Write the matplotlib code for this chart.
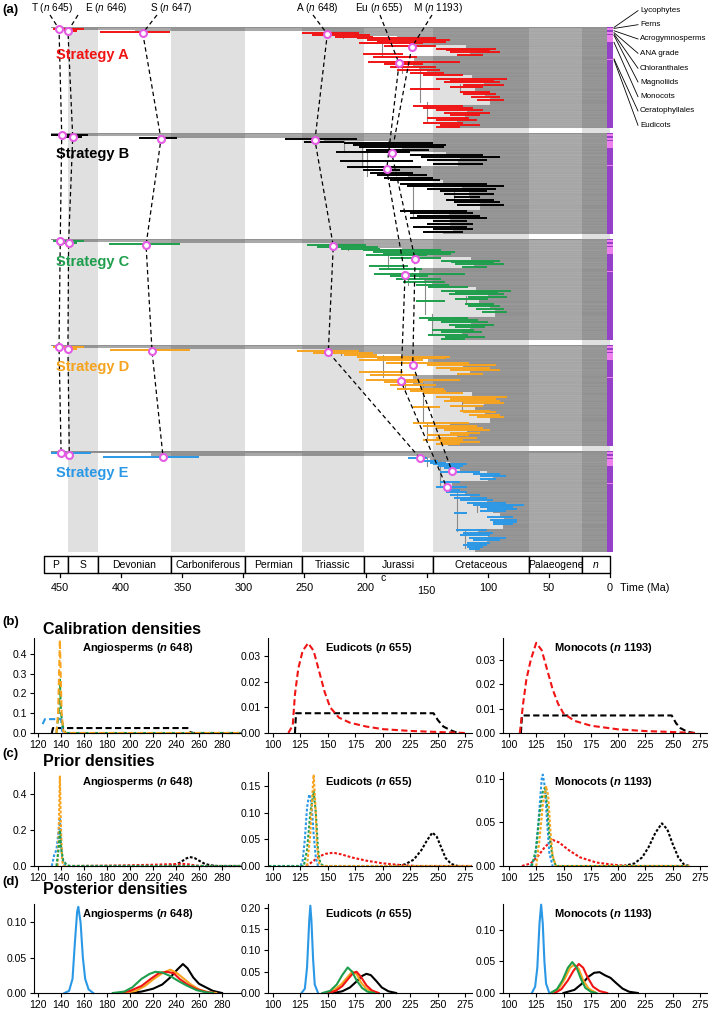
import numpy as np
import matplotlib
matplotlib.use('Agg')
import matplotlib.pyplot as plt
from matplotlib import font_manager

# ---------------- panel (a) data ----------------
period_names = ['P', 'S', 'Devonian', 'Carboniferous', 'Permian', 'Triassic',
                'Jurassi', 'Cretaceous', 'Palaeogene', 'n']
period_old = [463.0, 443.8, 419.2, 358.9, 298.9, 251.9, 201.3, 145.0, 66.0, 23.0]
period_young = [443.8, 419.2, 358.9, 298.9, 251.9, 201.3, 145.0, 66.0, 23.0, 0.0]
period_shaded = [False, True, False, True, False, True, False, True, False, True]
time_ticks = [450, 400, 350, 300, 250, 200, 150, 100, 50, 0]

strategies = ['A', 'B', 'C', 'D', 'E']
strategy_colors = ['#f01414', '#000000', '#1e9e4c', '#f6a31e', '#2b98e6']

node_labels = [('T', '645'), ('E', '646'), ('S', '647'), ('A', '648'),
               ('Eu', '655'), ('M', '1193')]
# ages (Ma) of the calibrated nodes, one value per strategy A..E
age_T = [450.8, 448.6, 449.8, 450.8, 449.1]
age_E = [443.5, 439.6, 443.0, 443.5, 442.4]
age_S = [382.3, 367.4, 379.6, 374.7, 365.7]
age_A = [231.3, 241.4, 226.4, 230.5, 155.5]
age_Eu = [172.6, 182.7, 167.7, 171.0, 133.6]
age_M = [162.2, 178.6, 159.5, 161.4, 129.3]
node_rows = [2, 4, 6, 7, 36, 20]  # tree row of each node (0-100)

clade_names = ['Lycophytes', 'Ferns', 'Acrogymnosperms', 'ANA grade', 'Chloranthales',
               'Magnoliids', 'Monocots', 'Ceratophyllales', 'Eudicots']
clade_bounds = [0, 1.0, 3.3, 5.2, 6.6, 7.9, 14.8, 31.2, 32.2, 100]
stem_age = 457

# node-age bars: (tree row, oldest, youngest)
bars_A = [(2, 456, 430), (3.5, 447, 436), (5, 417, 360),
          (6.3, 252, 205), (8, 244, 196), (9.7, 225, 194), (11.3, 207, 142), (13, 199, 131),
          (14.7, 191, 134), (16.3, 205, 153), (19, 185, 142), (21.3, 142, 93), (23, 134, 98),
          (24.7, 131, 90), (26.3, 202, 169), (28, 125, 104), (29.7, 194, 158), (34.7, 198, 123),
          (36.3, 185, 153), (39.7, 180, 142), (43, 174, 139), (45.7, 164, 136), (48, 153, 120),
          (51.3, 142, 84), (53, 131, 95), (54.7, 136, 90), (57, 120, 87), (59, 131, 104),
          (61.3, 164, 139), (64.7, 123, 98), (66.3, 120, 93), (69, 114, 90), (72, 109, 87),
          (78, 161, 120), (80.3, 153, 112), (82.3, 142, 104), (84.7, 136, 98), (87, 131, 106),
          (89.7, 150, 115), (92.3, 142, 109), (94.7, 153, 120), (97, 139, 106), (99, 142, 123)]
bars_B = [(2, 457, 427), (3.5, 448, 432), (5.3, 385, 354),
          (6.3, 266, 207), (8.7, 250, 218), (10.3, 218, 145), (12, 210, 134), (13.7, 205, 136),
          (17, 200, 148), (19.3, 224, 164), (22, 164, 104), (23.7, 155, 90), (26.3, 150, 101),
          (28, 221, 161), (30.3, 145, 104), (33.7, 215, 155), (37, 202, 172), (39.7, 196, 161),
          (42, 191, 150), (44.7, 185, 145), (47, 180, 139), (50.3, 172, 101), (52.7, 166, 87),
          (55.3, 150, 93), (57.7, 139, 101), (60.3, 136, 95), (63.7, 128, 106), (66, 134, 95),
          (68.7, 128, 90), (71, 125, 87), (77, 172, 117), (79.7, 164, 112), (82, 158, 106),
          (84.3, 164, 101), (87, 145, 117), (89.7, 150, 112), (92.7, 161, 117), (95.3, 145, 112),
          (97.7, 153, 120)]
bars_C = [(2, 456, 430), (3.5, 447, 436), (5, 410, 352),
          (6.3, 248, 200), (8, 240, 190), (9.7, 220, 188), (11.3, 202, 138), (13, 194, 127),
          (14.7, 186, 130), (16.3, 200, 150), (19, 180, 138), (21.3, 138, 90), (23, 130, 95),
          (24.7, 127, 87), (26.3, 197, 165), (28, 121, 101), (29.7, 189, 154), (34.7, 193, 119),
          (36.3, 180, 149), (39.7, 175, 138), (43, 169, 135), (45.7, 159, 132), (48, 149, 116),
          (51.3, 138, 81), (53, 127, 92), (54.7, 132, 87), (57, 116, 84), (59, 127, 100),
          (61.3, 159, 135), (64.7, 119, 95), (66.3, 116, 90), (69, 110, 87), (72, 105, 84),
          (78, 156, 116), (80.3, 149, 108), (82.3, 138, 100), (84.7, 132, 95), (87, 127, 102),
          (89.7, 146, 111), (92.3, 138, 105), (94.7, 149, 116), (97, 135, 102), (99, 138, 119)]
bars_D = [(2, 456, 430), (3.5, 447, 436), (5, 409, 344),
          (6, 256, 205), (7.7, 243, 194), (10, 218, 191), (11.7, 207, 131), (13.3, 191, 134),
          (15, 205, 153), (17.7, 183, 115), (20, 150, 93), (22.3, 142, 98), (25, 131, 90),
          (26.7, 205, 169), (28.3, 125, 104), (30, 196, 158), (34.3, 200, 123), (36.7, 185, 153),
          (40, 180, 142), (43.3, 174, 136), (45.7, 164, 134), (47.7, 153, 120), (51, 142, 84),
          (53.3, 131, 93), (55, 136, 90), (57.7, 120, 87), (60, 131, 104), (61.7, 161, 139),
          (65, 123, 98), (66.7, 120, 93), (69, 115, 90), (71.7, 109, 87), (77.7, 161, 115),
          (80, 153, 109), (82.3, 142, 104), (84.3, 136, 98), (86.7, 131, 106), (89, 150, 115),
          (91.7, 142, 109), (93.7, 153, 120), (96, 139, 106), (98.3, 142, 123)]
bars_E = [(2.3, 457, 425), (5.7, 415, 336),
          (7.3, 165, 150), (9.7, 153, 141), (11.7, 147, 134), (13, 145, 117), (15, 141, 120),
          (17.3, 136, 123), (20.7, 139, 106), (22.3, 112, 90), (25, 106, 85), (27.3, 106, 93),
          (30.7, 139, 123), (35.7, 142, 117), (38.3, 136, 123), (40.7, 134, 117), (44, 131, 106),
          (46.3, 128, 101), (49, 123, 96), (51.7, 117, 85), (53.3, 112, 70), (55, 106, 79),
          (57.3, 101, 76), (59, 106, 85), (61.7, 128, 117), (65.7, 101, 79), (68.3, 98, 76),
          (70.7, 96, 76), (72.3, 96, 79), (78.3, 126, 101), (80.7, 120, 96), (83, 123, 98),
          (85.7, 115, 85), (88, 112, 90), (90.7, 117, 98), (93, 120, 101), (95, 117, 104),
          (97.3, 115, 106)]

# vertical branch connectors: (age, first row, last row)
links_A = [(218.7, 6.3, 11.3), (186.8, 13, 29.7), (155.4, 39.7, 74.7), (150, 74.7, 93),
           (122.7, 56.3, 64.7), (170, 34.7, 45.7)]
links_B = [(203, 10.3, 33.7), (199, 17, 43), (161, 50, 84), (128, 55, 68), (218, 6.3, 19.3)]
links_C = [(214, 6.3, 11.3), (182, 13, 29.7), (151, 39.7, 74.7), (146, 74.7, 93),
           (118, 56.3, 64.7), (165, 34.7, 45.7)]
links_D = [(220, 6, 10), (185.4, 10, 31.7), (152.7, 38, 76.7), (150, 76.7, 93),
           (121, 55, 65), (168, 34.3, 45.7)]
links_E = [(139, 9, 35.7), (125.5, 39, 79), (118.7, 79, 95.7), (109, 54, 60.7), (150, 7.3, 15)]

# ---------------- panels (b)-(d) data: (age, density) ----------------
cal_angio = {
    'B': [(132, 0), (133, 0.025), (250, 0.025), (252, 0.005), (255, 0), (296, 0)],
    'E': [(124, 0.045), (126, 0.07), (140, 0.07), (141, 0.01), (143, 0), (160, 0)],
    'C': [(136, 0), (138, 0.1), (139, 0.27), (140, 0.1), (142, 0.02), (144, 0), (296, 0)],
    'D': [(136, 0), (137.5, 0.1), (139, 0.47), (140.5, 0.1), (142, 0.01), (144, 0), (296, 0)],
}
cal_eud = {
    'B': [(120, 0), (121, 0.0077), (246, 0.0077), (250, 0.005), (255, 0.0025), (262, 0.001), (268, 0)],
    'A': [(114, 0), (118, 0.003), (120, 0.015), (123, 0.025), (127, 0.032), (132, 0.035),
          (137, 0.032), (142, 0.024), (147, 0.016), (152, 0.01), (160, 0.006), (170, 0.004),
          (185, 0.0025), (200, 0.0015), (225, 0.0008), (250, 0.0004), (275, 0)],
}
cal_mono = {
    'B': [(111, 0), (112, 0.0072), (249, 0.0072), (253, 0.004), (257, 0.002), (262, 0.0008),
          (266, 0.0003), (270, 0)],
    'A': [(110, 0), (113, 0.012), (116, 0.022), (120, 0.03), (125, 0.037), (130, 0.034),
          (135, 0.026), (140, 0.018), (145, 0.012), (150, 0.008), (160, 0.005), (175, 0.003),
          (200, 0.0015), (225, 0.0008), (250, 0.0004), (270, 0)],
}
pri_angio = {
    'B': [(230, 0), (238, 0.005), (244, 0.02), (248, 0.04), (252, 0.05), (256, 0.045),
          (260, 0.03), (265, 0.012), (270, 0.004), (276, 0), (296, 0)],
    'A': [(150, 0), (180, 0.002), (200, 0.004), (220, 0.007), (235, 0.01), (245, 0.012),
          (250, 0.01), (255, 0.005), (260, 0.001), (265, 0), (296, 0)],
    'E': [(132, 0), (134, 0.06), (136, 0.09), (138, 0.2), (139, 0.27), (140, 0.12),
          (141, 0.04), (143, 0.005), (146, 0), (296, 0)],
    'D': [(137, 0), (138, 0.2), (139, 0.5), (140, 0.2), (141, 0.03), (142, 0), (296, 0)],
    'C': [(136, 0), (138, 0.1), (139, 0.2), (140, 0.1), (142, 0.03), (145, 0.005), (148, 0), (296, 0)],
}
pri_eud = {
    'B': [(210, 0), (220, 0.003), (228, 0.012), (235, 0.03), (240, 0.048), (245, 0.063),
          (249, 0.055), (253, 0.035), (257, 0.015), (262, 0.004), (268, 0)],
    'A': [(130, 0), (136, 0.008), (142, 0.018), (148, 0.023), (155, 0.025), (162, 0.022),
          (172, 0.016), (185, 0.01), (200, 0.005), (215, 0.002), (230, 0), (281, 0)],
    'E': [(96, 0), (125, 0), (127, 0.01), (129, 0.05), (131, 0.11), (133, 0.135), (135, 0.12),
          (137, 0.06), (139, 0.015), (141, 0)],
    'C': [(96, 0), (128, 0), (131, 0.03), (134, 0.1), (137, 0.14), (139, 0.1), (141, 0.03),
          (143, 0.005), (146, 0), (281, 0)],
    'D': [(131, 0), (134, 0.06), (136, 0.14), (137, 0.172), (138.5, 0.12), (140, 0.04),
          (142, 0.005), (144, 0), (281, 0)],
}
pri_mono = {
    'B': [(205, 0), (215, 0.003), (222, 0.01), (228, 0.022), (234, 0.038), (240, 0.049),
          (245, 0.042), (250, 0.025), (255, 0.01), (260, 0.002), (265, 0)],
    'A': [(112, 0), (120, 0.003), (127, 0.012), (133, 0.022), (140, 0.03), (146, 0.027),
          (155, 0.018), (165, 0.01), (180, 0.004), (195, 0.0015), (210, 0), (265, 0)],
    'E': [(120, 0), (124, 0.01), (127, 0.05), (130, 0.1), (131, 0.105), (133, 0.09),
          (135, 0.05), (137, 0.015), (140, 0)],
    'C': [(121, 0), (125, 0.02), (128, 0.06), (131, 0.085), (133, 0.09), (135, 0.07),
          (137, 0.035), (140, 0.01), (143, 0), (265, 0)],
    'D': [(125, 0), (128, 0.03), (131, 0.07), (134, 0.092), (136, 0.08), (138, 0.04),
          (140, 0.012), (143, 0), (265, 0)],
}
post_angio = {
    'B': [(200, 0), (210, 0.002), (220, 0.006), (228, 0.012), (235, 0.022), (241, 0.033),
          (246, 0.041), (250, 0.035), (255, 0.022), (260, 0.013), (266, 0.008), (272, 0.003), (280, 0)],
    'D': [(195, 0), (205, 0.003), (213, 0.01), (220, 0.019), (228, 0.028), (235, 0.033),
          (241, 0.028), (247, 0.02), (253, 0.012), (260, 0.005), (268, 0.001), (275, 0)],
    'A': [(190, 0), (200, 0.003), (210, 0.01), (218, 0.02), (225, 0.028), (232, 0.03),
          (238, 0.028), (243, 0.02), (250, 0.012), (257, 0.006), (265, 0.002), (272, 0)],
    'C': [(185, 0), (195, 0.002), (202, 0.008), (210, 0.02), (217, 0.027), (222, 0.03),
          (228, 0.029), (235, 0.024), (242, 0.017), (250, 0.01), (258, 0.004), (266, 0.001), (272, 0)],
    'E': [(143, 0), (147, 0.003), (150, 0.02), (152, 0.07), (154, 0.115), (155, 0.122),
          (157, 0.1), (159, 0.05), (161, 0.02), (164, 0.005), (168, 0)],
}
post_eud = {
    'B': [(155, 0), (163, 0.004), (170, 0.013), (176, 0.027), (181, 0.04), (185, 0.045),
          (189, 0.042), (194, 0.028), (199, 0.013), (205, 0.004), (212, 0)],
    'D': [(148, 0), (155, 0.006), (162, 0.02), (167, 0.035), (172, 0.05), (176, 0.045),
          (180, 0.025), (185, 0.01), (191, 0.002), (196, 0)],
    'A': [(150, 0), (157, 0.005), (163, 0.016), (168, 0.032), (173, 0.047), (176, 0.05),
          (180, 0.038), (185, 0.018), (190, 0.006), (196, 0)],
    'C': [(145, 0), (152, 0.005), (158, 0.02), (163, 0.042), (168, 0.06), (172, 0.05),
          (176, 0.03), (181, 0.012), (186, 0.003), (192, 0)],
    'E': [(126, 0), (129, 0.01), (131, 0.06), (133, 0.17), (134, 0.205), (135, 0.17),
          (136.5, 0.08), (138, 0.02), (141, 0)],
}
post_mono = {
    'B': [(150, 0), (160, 0.005), (167, 0.015), (173, 0.026), (178, 0.032), (183, 0.033),
          (188, 0.028), (193, 0.024), (198, 0.016), (204, 0.007), (210, 0.002), (218, 0)],
    'D': [(140, 0), (146, 0.008), (151, 0.022), (156, 0.04), (160, 0.045), (164, 0.038),
          (168, 0.02), (173, 0.007), (180, 0)],
    'A': [(142, 0), (148, 0.006), (154, 0.02), (159, 0.035), (164, 0.046), (168, 0.04),
          (172, 0.025), (177, 0.01), (183, 0.003), (190, 0)],
    'C': [(138, 0), (144, 0.006), (149, 0.02), (154, 0.04), (158, 0.049), (162, 0.04),
          (166, 0.022), (170, 0.008), (175, 0.002), (180, 0)],
    'E': [(121, 0), (124, 0.01), (126, 0.04), (128, 0.11), (129.5, 0.14), (131, 0.11),
          (132.5, 0.05), (134, 0.015), (137, 0)],
}

clade_titles = [('Angiosperms', '648'), ('Eudicots', '655'), ('Monocots', '1193')]
xticks_angio = [120, 140, 160, 180, 200, 220, 240, 260, 280]
xticks_other = [100, 125, 150, 175, 200, 225, 250, 275]
yticks_b = [['0.0', '0.1', '0.2', '0.3', '0.4'], ['0.00', '0.01', '0.02', '0.03'], ['0.00', '0.01', '0.02', '0.03']]
yticks_c = [['0.0', '0.2', '0.4'], ['0.00', '0.05', '0.10', '0.15'], ['0.00', '0.05', '0.10']]
yticks_d = [['0.00', '0.05', '0.10'], ['0.00', '0.05', '0.10', '0.15', '0.20'], ['0.00', '0.05', '0.10']]

# ---------------- fonts ----------------
installed = {f.name for f in font_manager.fontManager.ttflist}
narrow = 'Liberation Sans Narrow' if 'Liberation Sans Narrow' in installed else 'Liberation Sans'
plt.rcParams['font.family'] = ['Liberation Sans', 'DejaVu Sans']
plt.rcParams['mathtext.fontset'] = 'custom'
plt.rcParams['mathtext.rm'] = 'Liberation Sans'
plt.rcParams['mathtext.it'] = 'Liberation Sans:italic'
plt.rcParams['mathtext.bf'] = 'Liberation Sans:bold'
plt.rcParams['mathtext.bfit'] = 'Liberation Sans:italic:bold'

W, H = 709, 1011
fig = plt.figure(figsize=(W / 100, H / 100), dpi=100)


def px_axes(x0, y0, x1, y1):
    return fig.add_axes([x0 / W, 1 - y1 / H, (x1 - x0) / W, (y1 - y0) / H])


def age_at(px):
    return (610 - px) / 1.2222


# ================= panel (a) =================
ax = px_axes(0, 0, W, 600)
ax.set_xlim(age_at(0), age_at(W))
ax.set_ylim(600, 0)
ax.axis('off')

block_tops = [27, 133, 239, 345, 451]
unit = 1.01
block_h = 100 * unit
label_dy = [28, 21, 23, 22, 22]

for old, young, shade in zip(period_old, period_young, period_shaded):
    if shade:
        ax.fill_between([old, young], 27, block_tops[-1] + block_h, color='#e0e0e0', lw=0, zorder=0)

all_bars = [bars_A, bars_B, bars_C, bars_D, bars_E]
all_links = [links_A, links_B, links_C, links_D, links_E]
for s, bars in enumerate(all_bars):
    top = block_tops[s]
    col = strategy_colors[s]
    ys = [top + b[0] * unit for b in bars]
    mids = [(b[1] + b[2]) / 2 for b in bars]
    # lycophyte stem row
    ax.barh(top, stem_age, left=0, height=ys[0] - top - 0.7, align='edge',
            color='#8e8e8e', lw=0, zorder=1)
    for i in range(len(bars)):
        y0 = ys[i] - 0.7
        if i + 1 < len(bars):
            y1 = ys[i + 1] - 0.7
            start = min(mids[i], mids[i + 1])
        else:
            y1 = top + block_h
            start = mids[i]
        ax.barh(y0, start, left=0, height=y1 - y0, align='edge',
                color='black', alpha=0.35, lw=0.2, edgecolor='#d8d8d8', zorder=1)
    for age, r0, r1 in all_links[s]:
        ax.plot([age, age], [top + r0 * unit, top + r1 * unit], color='#8a8a8a', lw=0.8, zorder=2)
    ax.hlines(ys, [b[1] for b in bars], [b[2] for b in bars], color=col, lw=1.4, zorder=4)
    # clade strip
    for k in range(len(clade_names)):
        c = '#9440c8' if k % 2 == 0 else '#ee80ee'
        ax.barh(top + clade_bounds[k] * unit, age_at(613) - age_at(607), left=age_at(607),
                height=(clade_bounds[k + 1] - clade_bounds[k]) * unit, align='edge',
                color=c, lw=0, zorder=5)
    ax.text(age_at(56), top + label_dy[s], 'Strategy ' + strategies[s], color=col,
            fontsize=10.5, fontweight='bold', va='center', ha='left', zorder=8)

# calibrated nodes, dashed links between strategies
node_ages = [age_T, age_E, age_S, age_A, age_Eu, age_M]
label_x = [52, 106, 171, 317, 379, 438]
line_x = [50, 78, 157, 313, 380, 432]
for k, (nm, num) in enumerate(node_labels):
    xs = [age_at(line_x[k])] + node_ages[k]
    ys = [15] + [block_tops[s] + node_rows[k] * unit for s in range(5)]
    ax.plot(xs, ys, color='black', lw=0.9, ls=(0, (3.5, 2.5)), zorder=6)
    ax.plot(node_ages[k], ys[1:], 'o', mfc='white', mec='#e45ce4', ms=5, mew=1.5, zorder=9)
    ax.text(age_at(label_x[k]), 8, nm + ' (' + r'$\mathit{n}$' + ' ' + num + ')',
            fontsize=7.2, ha='center', va='center')

# clade labels with leader lines
label_y = [10.7, 24.7, 39, 53.3, 68.3, 82, 96.7, 111, 125.3]
for k, nm in enumerate(clade_names):
    y_strip = block_tops[0] + (clade_bounds[k] + 0.4) * unit
    ax.plot([age_at(614), age_at(638)], [y_strip, label_y[k]], color='black', lw=0.6)
    ax.text(age_at(640), label_y[k], nm, fontsize=5.8, va='center', ha='left')

# timescale
for nm, old, young in zip(period_names, period_old, period_young):
    ax.fill_between([old, young], 556, 573, facecolor='white', edgecolor='black', lw=1.0, zorder=3)
    ax.text((old + young) / 2, 564.5, nm, fontsize=7.5, ha='center', va='center',
            fontstyle='italic' if nm == 'n' else 'normal', zorder=4)
ax.text(186, 578, 'c', fontsize=7.5, ha='center', va='center')
for t in time_ticks:
    ax.plot([t, t], [573, 577], color='black', lw=0.9)
    ax.text(t, 591 if t == 150 else 588, str(t), fontsize=7.8, ha='center', va='center')
ax.text(age_at(620), 588, 'Time (Ma)', fontsize=7.8, ha='left', va='center')
ax.text(age_at(2), 10, '(a)', fontsize=9.5, fontweight='bold', ha='left', va='center')

# ================= panels (b)-(d) =================
col_px = [(34, 241), (268, 472), (503, 707)]
col_xlim = [(116.5, 296.5), (95.5, 281), (94.6, 281.3)]
title_x = [82, 325, 554]
rows = [
    ('(b)', 'Calibration densities', 622, 638, 733, [0.48, 0.037, 0.039], yticks_b,
     [cal_angio, cal_eud, cal_mono], (0, (3, 1.6))),
    ('(c)', 'Prior densities', 754, 772, 866, [0.525, 0.177, 0.108], yticks_c,
     [pri_angio, pri_eud, pri_mono], (0, (1.3, 0.9))),
    ('(d)', 'Posterior densities', 882, 904, 993, [0.126, 0.209, 0.141], yticks_d,
     [post_angio, post_eud, post_mono], '-'),
]
color_of = dict(zip(strategies, strategy_colors))

for tag, title, ty, y0, y1, ytops, ytick_lists, curves, ls in rows:
    fig.text(2 / W, 1 - ty / H, tag, fontsize=9.5, fontweight='bold', va='center')
    fig.text(43 / W, 1 - (ty + 8) / H, title, fontsize=11.5, fontweight='bold', va='center')
    for j in range(3):
        a = px_axes(col_px[j][0], y0, col_px[j][1], y1)
        for key, pts in curves[j].items():
            xs = [p[0] for p in pts]
            ys = [p[1] for p in pts]
            a.plot(xs, ys, color=color_of[key], lw=1.5, ls=ls, clip_on=False)
        a.set_xlim(*col_xlim[j])
        a.set_ylim(0, ytops[j])
        xt = xticks_angio if j == 0 else xticks_other
        a.set_xticks(xt)
        a.set_xticklabels([str(v) for v in xt], fontfamily=narrow, fontsize=7.5)
        yl = ytick_lists[j]
        a.set_yticks([float(v) for v in yl])
        a.set_yticklabels(yl, fontfamily=narrow, fontsize=7.5)
        a.spines['top'].set_visible(False)
        a.spines['right'].set_visible(False)
        a.spines['left'].set_linewidth(0.8)
        a.spines['bottom'].set_linewidth(0.8)
        a.tick_params(length=3, width=0.8, pad=2)
        a.patch.set_alpha(0)
        nm, num = clade_titles[j]
        fig.text(title_x[j] / W, 1 - (y0 + 10) / H, nm + ' (' + r'$\mathbfit{n}$' + ' ' + num + ')',
                 fontfamily=narrow, fontweight='bold', fontsize=8, va='center')

fig.savefig('out.png', dpi=100)
